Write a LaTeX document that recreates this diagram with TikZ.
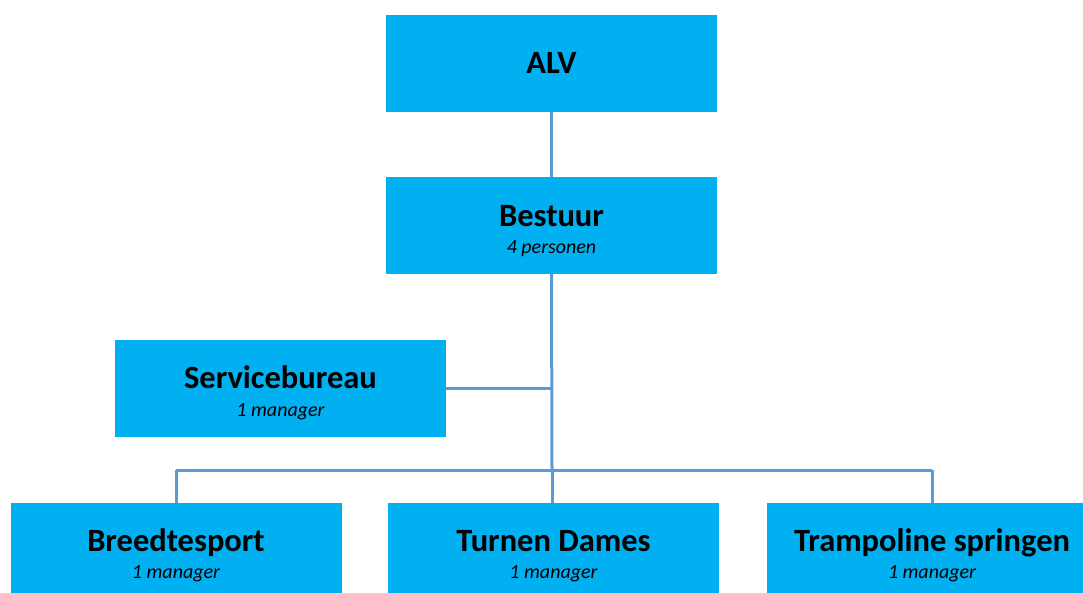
\documentclass[tikz,border=0pt]{standalone}
\usepackage{fontspec}
\setmainfont{Carlito}
\definecolor{boxcyan}{HTML}{00B0F0}
\definecolor{linkblue}{HTML}{5B9BD5}
\tikzset{
  orgbox/.style={draw=none, fill=boxcyan, minimum width=331pt, minimum height=97pt, inner sep=0pt, outer sep=0pt},
  ttl/.style={anchor=base, inner sep=0pt, font=\fontsize{32.5}{36}\selectfont\bfseries},
  sub/.style={anchor=base, inner sep=0pt, font=\fontsize{20}{24}\selectfont\itshape},
  link/.style={draw=linkblue, line width=3pt}
}
\begin{document}
\begin{tikzpicture}[x=1pt, y=-1pt]
\useasboundingbox (0,0) rectangle (1083,592);
% boxes
\node[orgbox] (alv) at (551.5,63.5) {};
\node[orgbox] (bestuur) at (551.5,225.5) {};
\node[orgbox] (service) at (280.5,388.5) {};
\node[orgbox] (breedte) at (176,551.5) {};
\node[orgbox] (turnen) at (553.5,551.5) {};
\node[orgbox] (tramp) at (932,551.5) {};
% connectors
\coordinate (j1) at (552,388.5);
\coordinate (j2) at (552,470);
\coordinate (bl) at (176,470);
\coordinate (br) at (932,470);
\draw[link] (alv.south) -- (bestuur.north);
\draw[link] (bestuur.south) -- (j2);
\draw[link] (service.east) -- (j1);
\draw[link] (bl) -- (br);
\draw[link] (bl) -- (breedte.north);
\draw[link] (br) -- (tramp.north);
\draw[link] (j2) -- (j2 |- turnen.north);
% texts
\node[ttl] (talv) at (551.5,73.5) {ALV};
\node[ttl] (tbest) at (551.5,226) {Bestuur};
\node[sub] (sbest) at (551.5,253) {4 personen};
\node[ttl] (tserv) at (280.5,388.5) {Servicebureau};
\node[sub] (sserv) at (280.5,416) {1 manager};
\node[ttl] (tbreed) at (176,551) {Breedtesport};
\node[sub] (sbreed) at (176,578) {1 manager};
\node[ttl] (tturn) at (553.5,551) {Turnen Dames};
\node[sub] (sturn) at (553.5,578) {1 manager};
\node[ttl] (ttramp) at (932,551) {Trampoline springen};
\node[sub] (stramp) at (932,578) {1 manager};
\end{tikzpicture}
\end{document}
